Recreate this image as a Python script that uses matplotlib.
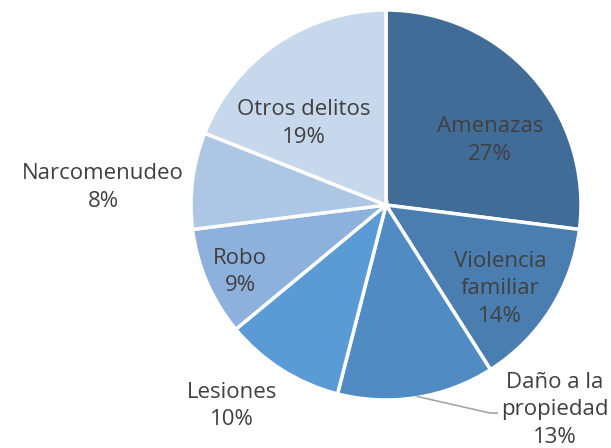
import matplotlib.pyplot as plt

# Datos
categorias = ["Amenazas", "Violencia\nfamiliar", "Daño a la\npropiedad", "Lesiones",
              "Robo", "Narcomenudeo", "Otros delitos"]
porcentajes = [27, 14, 13, 10, 9, 8, 19]
colores = ["#406C97", "#4A7EB1", "#508CC3", "#5B9BD5", "#8DB0DC", "#ADC6E4", "#C7D8EC"]

# posiciones de etiquetas (en radios)
pos_etiquetas = [(0.533, 0.33), (0.585, -0.43), (0.867, -1.051), (-0.79, -1.03),
                 (-0.749, -0.345), (-1.451, 0.09), (-0.42, 0.418)]

W, H = 611, 448
cx, cy, R = 386, 205, 195

fig = plt.figure(figsize=(W / 100, H / 100), dpi=100)
ax = fig.add_axes([0, 0, 1, 1])

wedges, _ = ax.pie(porcentajes, colors=colores, startangle=90, counterclock=False,
                   radius=1, wedgeprops=dict(edgecolor="white", linewidth=2.5))

ax.set_xlim(-cx / R, (W - cx) / R)
ax.set_ylim(-(H - cy) / R, cy / R)
ax.set_aspect("equal")
ax.axis("off")

for cat, p, (x, y) in zip(categorias, porcentajes, pos_etiquetas):
    ax.text(x, y, f"{cat}\n{p}%", ha="center", va="center", fontsize=16,
            color="#404040", family="Open Sans", linespacing=1.4)

# línea guía para Daño a la propiedad
ax.plot([0.16, 0.534, 0.57], [-0.982, -1.067, -1.067], color="#A6A6A6", lw=1.2)

fig.savefig("out.png", dpi=100)
